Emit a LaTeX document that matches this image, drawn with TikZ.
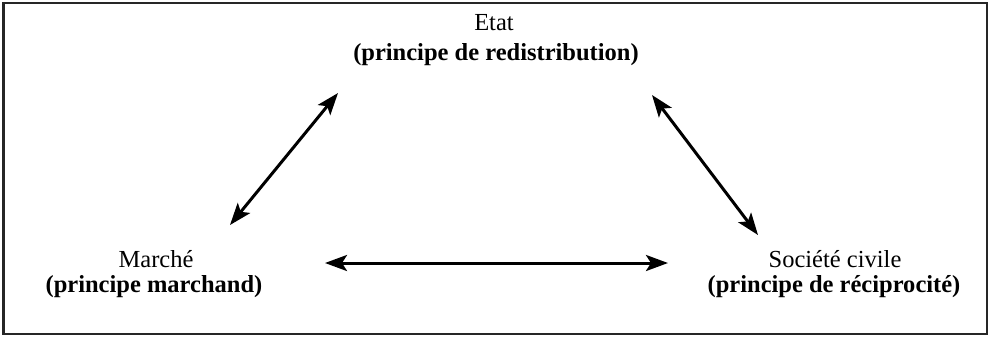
\documentclass[tikz,border=0pt]{standalone}
\usepackage{fontspec}
\setmainfont{Liberation Serif}
\usetikzlibrary{arrows.meta}
\begin{document}
\begin{tikzpicture}[x=0.5bp,y=-0.5bp,
  lbl/.style={anchor=base,inner sep=0pt,font=\fontsize{12.3}{14}\selectfont},
  blbl/.style={lbl,font=\fontsize{12.3}{14}\selectfont\bfseries},
  tip/.style={Stealth[length=11bp,width=8bp,inset=2.5bp]},
  link/.style={line width=1.5bp,{Stealth[length=11bp,width=8bp,inset=2.5bp]}-{Stealth[length=11bp,width=8bp,inset=2.5bp]}},
  frame/.style={draw=black!85,line width=1bp}]
\useasboundingbox (0,0) rectangle (990,337);
\draw[frame] (3.5,3) rectangle (987,333.5);
\node[lbl] (etat) at (494,30) {Etat};
\node[blbl] (etatp) at (496,60) {(principe de redistribution)};
\node[lbl] (marche) at (156,267) {Marché};
\node[blbl] (marchep) at (154,292) {(principe marchand)};
\node[lbl] (soc) at (835,267) {Société civile};
\node[blbl] (socp) at (834,292) {(principe de réciprocité)};
\coordinate (a1) at (338,93);
\coordinate (a2) at (230,225);
\coordinate (b1) at (652,95);
\coordinate (b2) at (758,235);
\coordinate (c1) at (325,263);
\coordinate (c2) at (668,263);
\draw[link] (a1) -- (a2);
\draw[link] (b1) -- (b2);
\draw[link] (c1) -- (c2);
\end{tikzpicture}
\end{document}
